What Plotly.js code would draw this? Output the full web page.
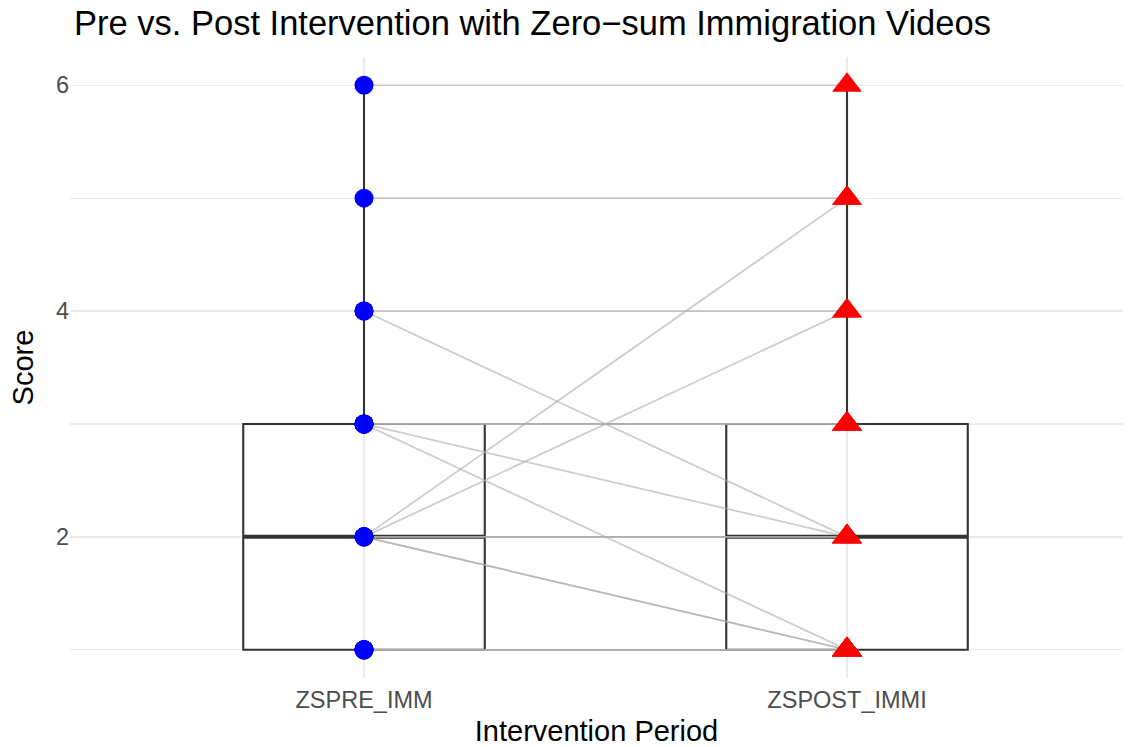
<!DOCTYPE html>
<html>
<head>
<meta charset="utf-8">
<script src="https://cdn.plot.ly/plotly-3.0.1.min.js"></script>
<style>
  html, body { margin: 0; padding: 0; background: #ffffff; }
  #chart { width: 1128px; height: 747px; }
</style>
</head>
<body>
<div id="chart"></div>
<script>
// ---- Data ----
const categories = ['ZSPRE_IMM', 'ZSPOST_IMMI'];
const categoryPositions = [1, 2];
// one entry per participant: score before and after the intervention
const preScores  = [1, 1, 1, 1, 1, 1, 1, 2, 2, 2, 2, 2, 2, 2, 3, 3, 3, 3, 3, 3, 4, 4, 5, 6];
const postScores = [1, 1, 1, 1, 1, 1, 1, 1, 1, 2, 2, 2, 4, 5, 1, 2, 3, 3, 3, 3, 2, 4, 5, 6];
const yTickValues = [2, 4, 6];
const yMinorTickValues = [1, 3, 5];

// ---- Styles ----
const FONT = 'Liberation Sans, Arial, Helvetica, sans-serif';
const BOX_COLOR = '#333333';
const PAIR_LINE_COLOR = 'rgba(170,170,170,0.6)';
const GRID_COLOR = '#ebebeb';
const BOX_WIDTH = 0.5;

function median(arr) {
  const s = arr.slice().sort((a, b) => a - b);
  const m = Math.floor(s.length / 2);
  return s.length % 2 ? s[m] : (s[m - 1] + s[m]) / 2;
}

const traces = [];
const series = [preScores, postScores];

// Box plots
series.forEach((vals, i) => {
  traces.push({
    type: 'box',
    y: vals,
    x0: categoryPositions[i],
    width: BOX_WIDTH,
    boxpoints: false,
    quartilemethod: 'linear',
    whiskerwidth: 0,
    fillcolor: 'rgba(0,0,0,0)',
    line: { color: BOX_COLOR, width: 2.1 },
    hoverinfo: 'skip',
    showlegend: false
  });
});

// Thicker median bars
series.forEach((vals, i) => {
  const m = median(vals);
  const c = categoryPositions[i];
  traces.push({
    type: 'scatter', mode: 'lines',
    x: [c - BOX_WIDTH / 2, c + BOX_WIDTH / 2],
    y: [m, m],
    line: { color: BOX_COLOR, width: 4 },
    hoverinfo: 'skip', showlegend: false
  });
});

// Paired lines, one per participant
preScores.forEach((pre, k) => {
  traces.push({
    type: 'scatter', mode: 'lines',
    x: [categoryPositions[0], categoryPositions[1]],
    y: [pre, postScores[k]],
    line: { color: PAIR_LINE_COLOR, width: 1.7 },
    hoverinfo: 'skip', showlegend: false
  });
});

// Points
traces.push({
  type: 'scatter', mode: 'markers',
  x: preScores.map(() => categoryPositions[0]),
  y: preScores,
  marker: { symbol: 'circle', color: '#0000ff', size: 19, line: { width: 0 } },
  hoverinfo: 'y', showlegend: false
});
traces.push({
  type: 'scatter', mode: 'markers',
  x: postScores.map(() => categoryPositions[1]),
  y: postScores,
  marker: { symbol: 'triangle-up', color: '#ff0000', size: 26, line: { width: 0 } },
  hoverinfo: 'y', showlegend: false
});

const layout = {
  width: 1128, height: 747,
  paper_bgcolor: '#ffffff', plot_bgcolor: '#ffffff',
  margin: { l: 70, r: 5, t: 57, b: 69, pad: 0 },
  font: { family: FONT, color: '#000000' },
  showlegend: false,
  title: {
    text: 'Pre vs. Post Intervention with Zero\u2212sum Immigration Videos',
    font: { family: FONT, size: 34.5, color: '#000000' },
    x: 74 / 1128, xref: 'container', xanchor: 'left',
    y: 1 - 23 / 747, yref: 'container', yanchor: 'middle'
  },
  xaxis: {
    range: [0.3913, 2.5714],
    tickmode: 'array', tickvals: categoryPositions, ticktext: categories,
    showgrid: true, gridcolor: GRID_COLOR, gridwidth: 1.3,
    zeroline: false, showline: false, ticks: '',
    ticklabelstandoff: 5,
    tickfont: { family: FONT, size: 23.5, color: '#4d4d4d' },
    title: { text: 'Intervention Period', font: { family: FONT, size: 29, color: '#000000' }, standoff: 12 },
    automargin: false, fixedrange: true
  },
  yaxis: {
    range: [0.75, 6.25],
    tickmode: 'array', tickvals: yTickValues,
    showgrid: true, gridcolor: GRID_COLOR, gridwidth: 1.3,
    minor: { tickmode: 'array', tickvals: yMinorTickValues, showgrid: true, gridcolor: GRID_COLOR, gridwidth: 1.1, ticks: '' },
    zeroline: false, showline: false, ticks: '',
    tickfont: { family: FONT, size: 23.5, color: '#4d4d4d' },
    title: { text: 'Score', font: { family: FONT, size: 29, color: '#000000' }, standoff: 13 },
    automargin: false, fixedrange: true
  }
};

Plotly.newPlot('chart', traces, layout, { displayModeBar: false, staticPlot: true });
</script>
</body>
</html>
